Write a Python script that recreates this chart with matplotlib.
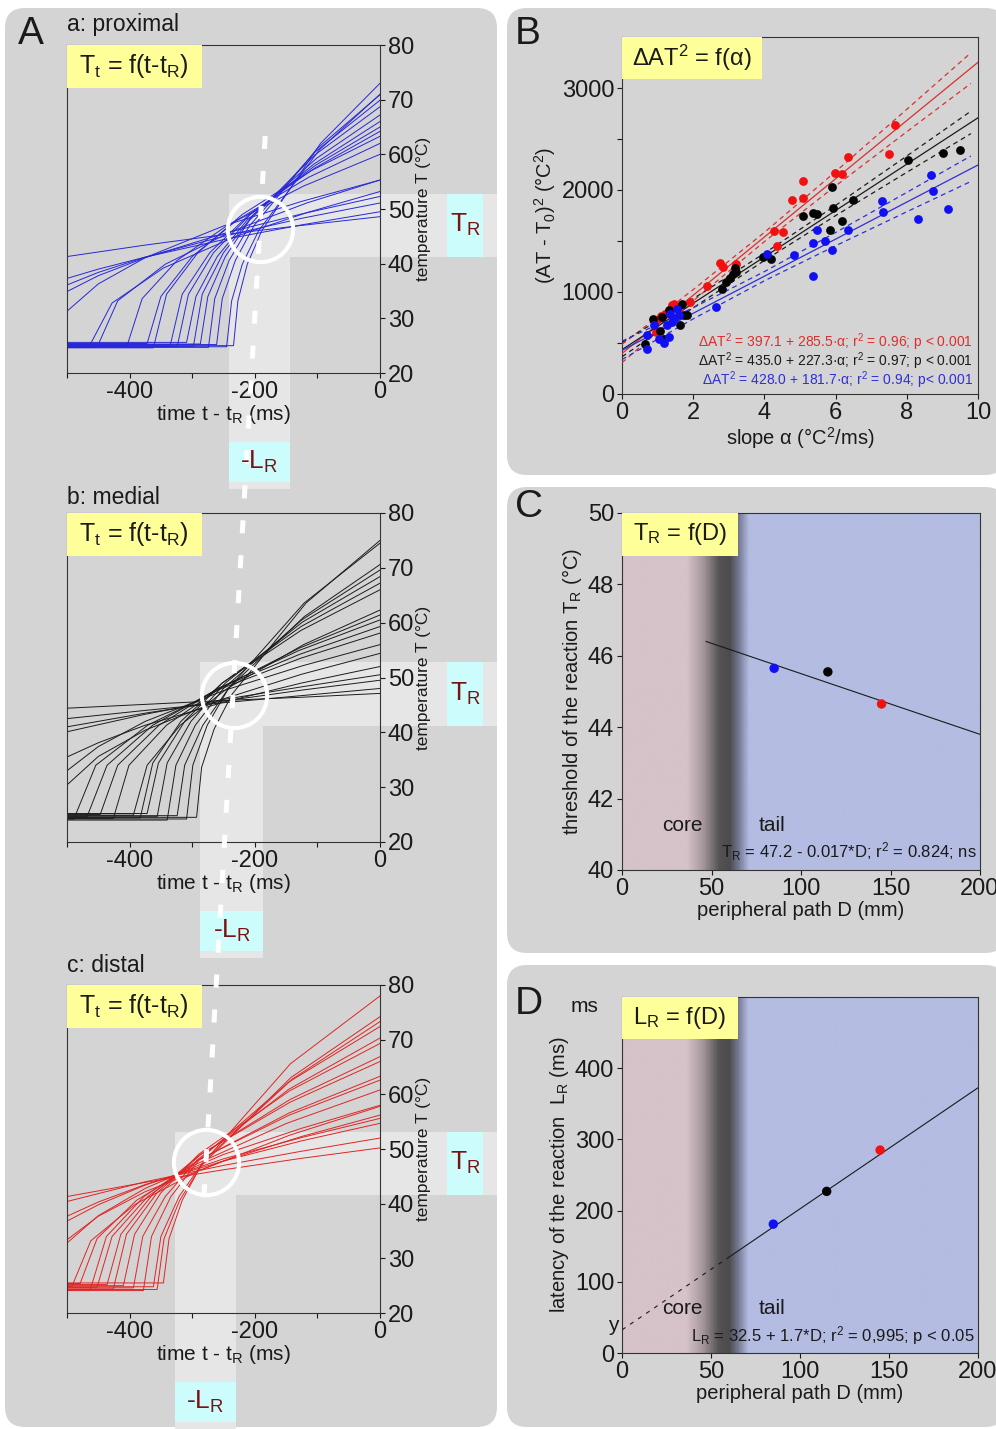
import numpy as np
import matplotlib
matplotlib.use("Agg")
import matplotlib.pyplot as plt
from matplotlib.patches import Rectangle, FancyBboxPatch
from matplotlib.colors import LinearSegmentedColormap
from matplotlib.lines import Line2D

plt.rcParams['font.family'] = ['Liberation Sans', 'DejaVu Sans']
plt.rcParams['mathtext.default'] = 'regular'
plt.rcParams['lines.scale_dashes'] = False

W, H = 996, 1429

# ---------------- data: panel A, temperature traces (t - tR in ms, T in degC) ----------------
PROXIMAL = [
    [(-500, 25.0), (-234, 25.0), (-227, 33.2), (-212, 39.9), (-189, 46.0), (-95, 62.0), (0, 73.0)],
    [(-500, 24.8), (-245, 24.8), (-237, 33.2), (-220, 39.9), (-194, 46.0), (-97, 60.8), (0, 71.0)],
    [(-500, 25.2), (-261, 25.2), (-252, 33.6), (-231, 40.6), (-201, 47.0), (-100, 61.1), (0, 70.9)],
    [(-500, 24.7), (-274, 24.7), (-264, 33.6), (-241, 40.6), (-208, 47.0), (-104, 60.4), (0, 69.9)],
    [(-500, 25.3), (-287, 25.3), (-275, 34.0), (-247, 41.3), (-208, 48.0), (-104, 59.9), (0, 68.7)],
    [(-500, 24.9), (-298, 24.9), (-284, 34.4), (-250, 42.0), (-202, 49.0), (-101, 59.3), (0, 67.2)],
    [(-500, 25.6), (-309, 25.6), (-294, 34.0), (-260, 41.3), (-212, 48.0), (-106, 58.2), (0, 66.0)],
    [(-500, 24.8), (-324, 24.8), (-306, 34.4), (-266, 42.0), (-207, 49.0), (-103, 58.0), (0, 65.0)],
    [(-500, 25.1), (-335, 25.1), (-316, 34.4), (-272, 42.0), (-209, 49.0), (-104, 57.5), (0, 64.2)],
    [(-500, 24.6), (-362, 24.6), (-341, 34.4), (-291, 42.0), (-220, 49.0), (-110, 57.0), (0, 63.3)],
    [(-500, 25.4), (-372, 25.4), (-350, 34.0), (-300, 41.3), (-228, 48.0), (-114, 55.8), (0, 62.0)],
    [(-500, 25.0), (-404, 25.0), (-380, 33.6), (-324, 40.6), (-244, 47.0), (-122, 54.2), (0, 60.0)],
    [(-500, 24.7), (-452, 24.7), (-419, 33.2), (-343, 39.9), (-235, 46.0), (-117, 51.1), (0, 55.3)],
    [(-500, 25.2), (-463, 25.2), (-428, 32.8), (-346, 39.2), (-230, 45.0), (-115, 49.4), (0, 53.2)],
    [(-500, 41.3), (-375, 43.4), (-250, 45.3), (-125, 47.0), (0, 48.6)],
    [(-500, 37.3), (-450, 39.0), (-375, 41.2), (-250, 44.4), (-125, 47.1), (0, 49.5)],
    [(-500, 36.1), (-450, 38.4), (-375, 41.2), (-250, 45.0), (-125, 48.3), (0, 51.1)],
    [(-500, 34.9), (-450, 37.8), (-375, 41.1), (-250, 45.5), (-125, 49.1), (0, 52.3)],
    [(-500, 31.3), (-450, 36.3), (-375, 41.1), (-250, 46.9), (-125, 51.4), (0, 55.3)],
]

MEDIAL = [
    [(-500, 24.5), (-293, 24.5), (-285, 33.6), (-265, 40.6), (-236, 47.0), (-118, 63.6), (0, 75.0)],
    [(-500, 24.2), (-309, 24.2), (-299, 34.0), (-276, 41.3), (-242, 48.0), (-121, 63.6), (0, 74.5)],
    [(-500, 24.8), (-324, 24.8), (-312, 34.0), (-283, 41.3), (-242, 48.0), (-121, 61.1), (0, 70.6)],
    [(-500, 24.0), (-340, 24.0), (-326, 34.0), (-295, 41.3), (-250, 48.0), (-125, 60.5), (0, 69.6)],
    [(-500, 24.6), (-356, 24.6), (-340, 34.4), (-302, 42.0), (-247, 49.0), (-124, 60.1), (0, 68.4)],
    [(-500, 25.2), (-372, 25.2), (-354, 34.4), (-312, 42.0), (-252, 49.0), (-126, 59.3), (0, 67.2)],
    [(-500, 24.4), (-383, 24.4), (-363, 34.4), (-318, 42.0), (-252, 49.0), (-126, 58.6), (0, 66.0)],
    [(-500, 24.9), (-394, 24.9), (-372, 34.0), (-319, 41.3), (-244, 48.0), (-122, 56.0), (0, 62.3)],
    [(-500, 24.3), (-426, 24.3), (-401, 34.0), (-341, 41.3), (-256, 48.0), (-128, 55.4), (0, 61.4)],
    [(-500, 25.0), (-447, 25.0), (-419, 34.0), (-353, 41.3), (-259, 48.0), (-130, 54.9), (0, 60.5)],
    [(-500, 24.6), (-468, 24.6), (-436, 34.0), (-363, 41.3), (-258, 48.0), (-129, 54.2), (0, 59.3)],
    [(-500, 24.2), (-489, 24.2), (-454, 34.0), (-371, 41.3), (-253, 48.0), (-127, 53.5), (0, 58.1)],
    [(-500, 44.4), (-375, 45.1), (-250, 45.8), (-125, 46.4), (0, 47.1)],
    [(-500, 42.5), (-375, 44.0), (-250, 45.4), (-125, 46.7), (0, 48.0)],
    [(-500, 41.0), (-375, 43.5), (-250, 45.7), (-125, 47.7), (0, 49.5)],
    [(-500, 40.1), (-375, 43.3), (-250, 46.0), (-125, 48.3), (0, 50.5)],
    [(-500, 35.5), (-450, 38.1), (-375, 41.3), (-250, 45.5), (-125, 49.0), (0, 52.0)],
    [(-500, 30.4), (-450, 35.6), (-375, 40.4), (-250, 46.1), (-125, 50.6), (0, 54.4)],
    [(-500, 33.0), (-450, 37.4), (-375, 42.0), (-250, 47.6), (-125, 52.1), (0, 56.0)],
]

DISTAL = [
    [(-500, 25.5), (-346, 25.5), (-337, 33.6), (-316, 40.6), (-286, 47.0), (-143, 65.6), (0, 78.0)],
    [(-500, 24.3), (-356, 24.3), (-345, 33.6), (-320, 40.6), (-285, 47.0), (-142, 63.1), (0, 74.2)],
    [(-500, 24.8), (-362, 24.8), (-350, 34.0), (-321, 41.3), (-280, 48.0), (-140, 62.8), (0, 73.3)],
    [(-500, 24.1), (-378, 24.1), (-365, 34.0), (-334, 41.3), (-289, 48.0), (-145, 62.3), (0, 72.4)],
    [(-500, 24.6), (-394, 24.6), (-379, 34.0), (-343, 41.3), (-292, 48.0), (-146, 60.9), (0, 70.3)],
    [(-500, 25.0), (-410, 25.0), (-392, 34.4), (-350, 42.0), (-290, 49.0), (-145, 60.6), (0, 69.3)],
    [(-500, 24.4), (-426, 24.4), (-405, 34.4), (-356, 42.0), (-286, 49.0), (-143, 59.1), (0, 66.9)],
    [(-500, 25.2), (-436, 25.2), (-414, 34.4), (-361, 42.0), (-287, 49.0), (-143, 58.6), (0, 66.0)],
    [(-500, 24.7), (-452, 24.7), (-428, 34.0), (-371, 41.3), (-289, 48.0), (-145, 56.6), (0, 63.3)],
    [(-500, 24.2), (-463, 24.2), (-437, 34.0), (-377, 41.3), (-290, 48.0), (-145, 56.2), (0, 62.6)],
    [(-500, 25.4), (-479, 25.4), (-452, 33.6), (-389, 40.6), (-298, 47.0), (-149, 54.7), (0, 60.8)],
    [(-500, 24.9), (-492, 24.9), (-462, 33.2), (-391, 39.9), (-290, 46.0), (-145, 52.5), (0, 57.8)],
    [(-500, 41.3), (-375, 43.9), (-250, 46.2), (-125, 48.3), (0, 50.2)],
    [(-500, 40.4), (-375, 44.0), (-250, 47.0), (-125, 49.6), (0, 52.0)],
    [(-500, 37.7), (-450, 40.3), (-375, 43.5), (-250, 47.8), (-125, 51.5), (0, 54.7)],
    [(-500, 36.8), (-450, 39.8), (-375, 43.4), (-250, 48.2), (-125, 52.1), (0, 55.6)],
    [(-500, 33.4), (-450, 37.7), (-375, 42.2), (-250, 47.8), (-125, 52.3), (0, 56.2)],
    [(-500, 32.8), (-450, 37.8), (-375, 42.8), (-250, 49.0), (-125, 53.8), (0, 58.0)],
]

# reaction point (circle), latency band and threshold band per site
CIRCLES = [(-192, 46.3), (-234, 46.8), (-278, 47.6)]
LR_BANDS = [(-241, -144), (-287, -187), (-328, -230)]
TR_BANDS = [(41.3, 52.8), (41.1, 52.9), (41.6, 53.2)]
SITE_TITLES = ['a: proximal', 'b: medial', 'c: distal']

# ---------------- data: panel B ----------------
RED_ALPHA = [7.66, 7.50, 6.36, 5.98, 6.17, 5.09, 4.77, 5.09, 4.27, 4.51, 4.36, 2.74, 2.83, 3.20,
             2.38, 1.91, 1.45, 1.40, 1.21, 0.98, 0.96, 1.60, 1.10]
RED_DAT = [2642, 2350, 2323, 2164, 2154, 2089, 1904, 1920, 1601, 1591, 1455, 1282, 1243, 1276,
           1057, 901, 879, 876, 788, 722, 608, 840, 760]
BLACK_ALPHA = [9.49, 9.02, 8.04, 6.50, 5.89, 5.93, 6.17, 5.84, 5.09, 5.37, 5.49, 4.18, 3.97, 3.18,
               3.13, 3.20, 3.02, 2.91, 2.80, 1.68, 1.75, 1.82, 1.64, 1.32, 1.12, 0.87, 1.07, 1.17, 0.65]
BLACK_DAT = [2395, 2362, 2297, 1900, 2031, 1822, 1699, 1611, 1747, 1773, 1764, 1328, 1347, 1237,
             1178, 1194, 1139, 1097, 1025, 885, 771, 771, 674, 820, 755, 739, 615, 543, 495]
BLUE_ALPHA = [9.16, 8.74, 8.69, 8.32, 7.29, 7.34, 6.36, 5.47, 5.70, 5.37, 5.89, 4.83, 4.07, 5.37,
              2.64, 1.54, 1.45, 1.36, 1.40, 1.26, 0.89, 0.70, 1.03, 0.70, 1.33, 1.17, 1.60]
BLUE_DAT = [1812, 1992, 2148, 1715, 1894, 1780, 1608, 1608, 1503, 1481, 1412, 1363, 1373, 1155,
            853, 836, 739, 788, 706, 674, 674, 576, 543, 446, 560, 504, 770]

# regression (intercept, slope) and confidence half widths at CI_X
FIT_RED = (397.1, 285.5)
FIT_BLACK = (435.0, 227.3)
FIT_BLUE = (428.0, 181.7)
CI_X = [0, 2, 4, 6, 8, 9.8]
CI_RED = [90, 55, 45, 70, 110, 150]
CI_BLACK = [70, 45, 35, 50, 80, 110]
CI_BLUE = [90, 55, 45, 65, 95, 125]
EQ_B = ['\u0394AT$^2$ = 397.1 + 285.5\u00b7\u03b1; r$^2$ = 0.96; p < 0.001',
        '\u0394AT$^2$ = 435.0 + 227.3\u00b7\u03b1; r$^2$ = 0.97; p < 0.001',
        '\u0394AT$^2$ = 428.0 + 181.7\u00b7\u03b1; r$^2$ = 0.94; p< 0.001']

# ---------------- data: panels C and D ----------------
PATH_D = [85, 115, 145]
T_R = [45.65, 45.55, 44.65]
L_R = [181, 227, 285]
FIT_C = (47.2, -0.017)
FIT_D = (32.5, 1.7)

# ---------------- colours ----------------
PANEL_BG = '#d4d4d4'
YELLOW = '#ffff99'
CYAN = '#ccfcfc'
BAND = '#e6e6e6'
DARKRED = '#7a1212'
TEXT = '#1a1a1a'
SPINE = '#333333'
TRACE_COLORS = ['#2727d8', '#1c1c1c', '#e02424']
DOT_COLORS = ['#1010f2', '#050505', '#f21010']
LINE_B = ['#dd2e2e', '#1c1c1c', '#2f2fd6']


def px_axes(fig, left, top, right, bottom):
    return fig.add_axes([left / W, 1 - bottom / H, (right - left) / W, (bottom - top) / H])


def fig_text(fig, x, y, s, **kw):
    fig.text(x / W, 1 - y / H, s, **kw)


def style_spines(ax):
    for sp in ax.spines.values():
        sp.set_color(SPINE)
        sp.set_linewidth(0.8)


def trace_panel(fig, box, traces, k):
    ax = px_axes(fig, *box)
    ax.set_facecolor('none')
    for tr in traces:
        t, temp = zip(*tr)
        ax.plot(t, temp, color=TRACE_COLORS[k], lw=0.7, zorder=2)
    ax.set_xlim(-500, 0)
    ax.set_ylim(20, 80)

    lr0, lr1 = LR_BANDS[k]
    tr0, tr1 = TR_BANDS[k]
    low = -1.2
    # light bands leading to the TR / -LR labels
    ax.add_patch(Rectangle((lr0, low), lr1 - lr0, tr0 - low, fc=BAND, ec='none', zorder=0, clip_on=False))
    ax.add_patch(Rectangle((lr0, tr0), 187 - lr0, tr1 - tr0, fc=BAND, ec='none', zorder=0, clip_on=False))
    ax.add_patch(Rectangle((107, tr0), 58, tr1 - tr0, fc=CYAN, ec='none', zorder=1, clip_on=False))
    ax.text(136, (tr0 + tr1) / 2, 'T$_R$', color=DARKRED, fontsize=19, ha='center', va='center',
            clip_on=False)
    ax.add_patch(Rectangle((lr0, 0.1), lr1 - lr0, 7.3, fc=CYAN, ec='none', zorder=1, clip_on=False))
    # drawn at figure level so it stays above the white dashed guide
    fig.text((lr0 + lr1) / 2, 3.8, '-L$_R$', transform=ax.transData, color=DARKRED, fontsize=19,
             ha='center', va='center', zorder=30)

    cx, cy = CIRCLES[k]
    ax.plot([cx], [cy], 'o', ms=47, mfc='none', mec='white', mew=2.9, zorder=5, clip_on=False)

    ax.add_patch(Rectangle((0, 0.868), 0.43, 0.132, transform=ax.transAxes, fc=YELLOW, ec='none', zorder=6))
    ax.text(0.213, 0.935, 'T$_t$ = f(t-t$_R$)', transform=ax.transAxes, ha='center', va='center',
            fontsize=18, color=TEXT, zorder=7)

    ax.yaxis.tick_right()
    ax.yaxis.set_label_position('right')
    ax.set_yticks(range(20, 81, 10))
    ax.set_xticks(range(-500, 1, 100))
    ax.set_xticklabels(['', '-400', '', '-200', '', '0'])
    ax.tick_params(direction='out', length=3.6, width=0.8, labelsize=17, pad=2, colors=TEXT)
    ax.set_ylabel('temperature T (\u00b0C)', fontsize=12.5, labelpad=1, color=TEXT)
    ax.set_xlabel('time t - t$_R$ (ms)', fontsize=15, labelpad=0, color=TEXT)
    style_spines(ax)
    return ax


def gradient_bg(ax, ymin, ymax):
    stops = [(0.0, '#d6c2c9'), (0.18, '#d6c2c9'), (0.225, '#a6979c'), (0.27, '#565354'),
             (0.30, '#4b4b4d'), (0.325, '#737891'), (0.355, '#b4bce2'), (1.0, '#b4bce2')]
    cmap = LinearSegmentedColormap.from_list('core_tail', stops)
    ax.imshow(np.linspace(0, 1, 600)[None, :], extent=[0, 200, ymin, ymax], cmap=cmap,
              aspect='auto', zorder=0, interpolation='bilinear')


def main():
    fig = plt.figure(figsize=(W / 100, H / 100), dpi=100, facecolor='white')

    # rounded grey panels
    bg = fig.add_axes([0, 0, 1, 1], zorder=-10)
    bg.set_xlim(0, W)
    bg.set_ylim(H, 0)
    bg.axis('off')
    for (x0, y0, x1, y1) in [(5, 8, 497, 1427), (507, 8, 1005, 475), (507, 487, 1005, 953),
                             (507, 965, 1005, 1427)]:
        bg.add_patch(FancyBboxPatch((x0, y0), x1 - x0, y1 - y0,
                                    boxstyle='round,pad=0,rounding_size=20',
                                    fc=PANEL_BG, ec='none'))

    # ---- panel A ----
    boxes_a = [(67, 45, 380, 373), (67, 513, 380, 842), (67, 985, 380, 1313)]
    title_y = [25, 497, 966]
    axes_a = []
    for k, traces in enumerate([PROXIMAL, MEDIAL, DISTAL]):
        axes_a.append(trace_panel(fig, boxes_a[k], traces, k))
        fig_text(fig, 67, title_y[k], SITE_TITLES[k], fontsize=16.5, color=TEXT, va='center')
    fig_text(fig, 18, 34, 'A', fontsize=28, color=TEXT, va='center')

    # white dashed guide through the three reaction points
    fig.canvas.draw()
    pa = axes_a[0].transData.transform(CIRCLES[0])
    pc = axes_a[2].transData.transform(CIRCLES[2])
    d = pa - pc
    p1 = fig.transFigure.inverted().transform(pa + 0.10 * d)
    p2 = fig.transFigure.inverted().transform(pc - 0.057 * d)
    fig.add_artist(Line2D([p1[0], p2[0]], [p1[1], p2[1]], transform=fig.transFigure, color='white',
                          lw=3.6, ls=(0, (9.4, 15.8)), dash_capstyle='butt', zorder=20))

    # ---- panel B ----
    ax = px_axes(fig, 622, 37, 978, 394)
    ax.set_facecolor('none')
    groups = [(RED_ALPHA, RED_DAT, FIT_RED, CI_RED, 2),
              (BLACK_ALPHA, BLACK_DAT, FIT_BLACK, CI_BLACK, 1),
              (BLUE_ALPHA, BLUE_DAT, FIT_BLUE, CI_BLUE, 0)]
    for a, v, (b0, b1), hw, c in groups:
        col = LINE_B[2 - c]
        ax.scatter(a, v, s=40, color=DOT_COLORS[c], linewidths=0, zorder=4)
        xs = np.array([0, 10])
        ax.plot(xs, b0 + b1 * xs, color=col, lw=0.9, zorder=3)
        cx = np.array(CI_X)
        ax.plot(cx, b0 + b1 * cx + np.array(hw), color=col, lw=0.9, ls=(0, (3.5, 2.8)), zorder=3)
        ax.plot(cx, b0 + b1 * cx - np.array(hw), color=col, lw=0.9, ls=(0, (3.5, 2.8)), zorder=3)
    ax.set_xlim(0, 10)
    ax.set_ylim(0, 3500)
    ax.set_xticks(range(0, 11, 2))
    ax.set_yticks([0, 1000, 2000, 3000])
    ax.set_yticks([500, 1500, 2500], minor=True)
    ax.tick_params(which='both', direction='out', length=3.6, width=0.8, labelsize=17, pad=2,
                   colors=TEXT)
    ax.set_xlabel('slope \u03b1 (\u00b0C$^2$/ms)', fontsize=14.5, labelpad=1, color=TEXT)
    ax.set_ylabel('(AT - T$_0$)$^2$ (\u00b0C$^2$)', fontsize=14.5, labelpad=3, color=TEXT)
    ax.add_patch(Rectangle((0, 3086), 3.93, 414, fc=YELLOW, ec='none', zorder=6))
    ax.text(1.965, 3300, '\u0394AT$^2$ = f(\u03b1)', ha='center', va='center', fontsize=17,
            color=TEXT, zorder=7)
    for i, (s, ypos) in enumerate(zip(EQ_B, [0.146, 0.092, 0.039])):
        ax.text(0.986, ypos, s, transform=ax.transAxes, ha='right', va='center', fontsize=10,
                color=LINE_B[i], zorder=7)
    style_spines(ax)
    fig_text(fig, 515, 34, 'B', fontsize=28, color=TEXT, va='center')

    # ---- panel C ----
    ax = px_axes(fig, 622, 513, 980, 870)
    gradient_bg(ax, 40, 50)
    dc = np.array([47, 200])
    ax.plot(dc, FIT_C[0] + FIT_C[1] * dc, color=TEXT, lw=0.8, zorder=3)
    ax.scatter(PATH_D, T_R, s=46, color=DOT_COLORS, linewidths=0, zorder=4)
    ax.set_xlim(0, 200)
    ax.set_ylim(40, 50)
    ax.set_xticks(range(0, 201, 50))
    ax.set_yticks(range(40, 51, 2))
    ax.tick_params(direction='out', length=3.6, width=0.8, labelsize=17, pad=2, colors=TEXT)
    ax.set_xlabel('peripheral path D (mm)', fontsize=14.5, labelpad=1, color=TEXT)
    ax.set_ylabel('threshold of the reaction T$_R$ (\u00b0C)', fontsize=14.5, labelpad=3, color=TEXT)
    ax.add_patch(Rectangle((0, 48.8), 65, 1.2, fc=YELLOW, ec='none', zorder=6))
    ax.text(32.5, 49.4, 'T$_R$ = f(D)', ha='center', va='center', fontsize=17, color=TEXT, zorder=7)
    ax.text(34, 41.26, 'core', ha='center', va='center', fontsize=15, color=TEXT, zorder=5)
    ax.text(84, 41.26, 'tail', ha='center', va='center', fontsize=15, color=TEXT, zorder=5)
    ax.text(0.99, 0.05, 'T$_R$ = 47.2 - 0.017*D; r$^2$ = 0.824; ns', transform=ax.transAxes,
            ha='right', va='center', fontsize=12, color=TEXT, zorder=5)
    style_spines(ax)
    fig_text(fig, 515, 507, 'C', fontsize=28, color=TEXT, va='center')

    # ---- panel D ----
    ax = px_axes(fig, 622, 997, 978, 1353)
    gradient_bg(ax, 0, 500)
    d_dash = np.array([0, 60])
    d_solid = np.array([60, 200])
    ax.plot(d_dash, FIT_D[0] + FIT_D[1] * d_dash, color=TEXT, lw=0.8, ls=(0, (3, 4)), zorder=3)
    ax.plot(d_solid, FIT_D[0] + FIT_D[1] * d_solid, color=TEXT, lw=0.8, zorder=3)
    ax.scatter(PATH_D, L_R, s=46, color=DOT_COLORS, linewidths=0, zorder=4)
    ax.set_xlim(0, 200)
    ax.set_ylim(0, 500)
    ax.set_xticks(range(0, 201, 50))
    ax.set_yticks(range(0, 401, 100))
    ax.tick_params(direction='out', length=3.6, width=0.8, labelsize=17, pad=2, colors=TEXT)
    ax.set_xlabel('peripheral path D (mm)', fontsize=14.5, labelpad=1, color=TEXT)
    ax.set_ylabel('latency of the reaction  L$_R$ (ms)', fontsize=14.5, labelpad=3, color=TEXT)
    ax.add_patch(Rectangle((0, 441), 65, 59, fc=YELLOW, ec='none', zorder=6))
    ax.text(32.5, 470, 'L$_R$ = f(D)', ha='center', va='center', fontsize=17, color=TEXT, zorder=7)
    ax.text(34, 63, 'core', ha='center', va='center', fontsize=15, color=TEXT, zorder=5)
    ax.text(84, 63, 'tail', ha='center', va='center', fontsize=15, color=TEXT, zorder=5)
    ax.text(0.989, 0.05, 'L$_R$ = 32.5 + 1.7*D; r$^2$ = 0,995; p < 0.05', transform=ax.transAxes,
            ha='right', va='center', fontsize=12, color=TEXT, zorder=5)
    ax.text(-21, 487, 'ms', ha='center', va='center', fontsize=15, color=TEXT, clip_on=False)
    ax.text(-2, FIT_D[0] + 6, 'y', ha='right', va='center', fontsize=15, color=TEXT, clip_on=False)
    style_spines(ax)
    fig_text(fig, 515, 1004, 'D', fontsize=28, color=TEXT, va='center')

    fig.savefig('out.png', dpi=100, facecolor='white')


if __name__ == '__main__':
    main()
